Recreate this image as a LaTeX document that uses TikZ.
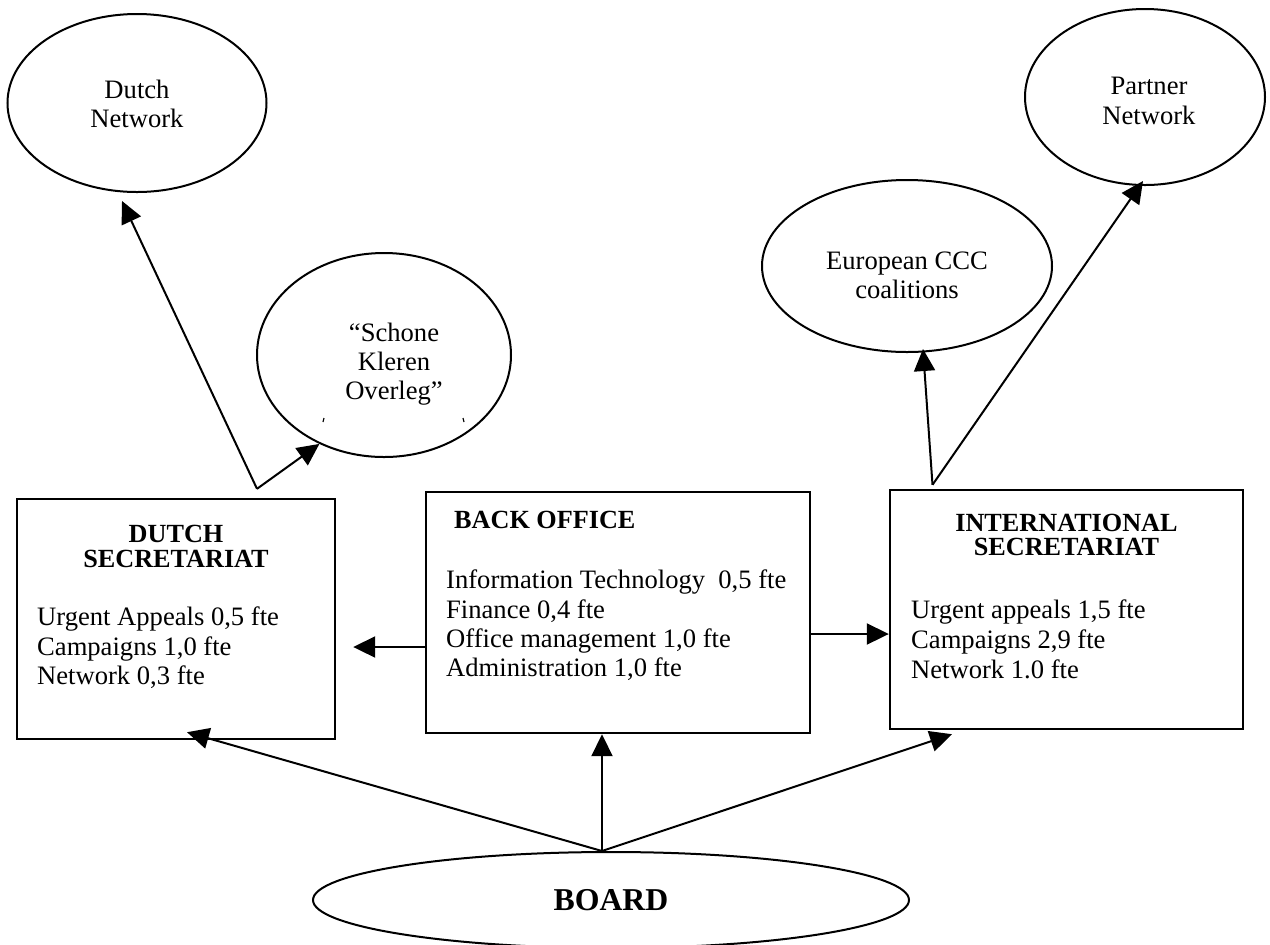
\documentclass[tikz,border=0pt]{standalone}
\usepackage{fontspec}
\setmainfont{Liberation Serif}
\usetikzlibrary{positioning,shapes.geometric,arrows.meta}

\begin{document}
\begin{tikzpicture}[x=0.5pt, y=-0.5pt,
				net/.style={ellipse, draw=black, line width=1pt, inner sep=0pt},
				nettext/.style={rectangle, inner sep=0pt, align=center, font=\fontsize{13.3}{14.6}\selectfont},
				unit/.style={rectangle, draw=black, line width=1.2pt, inner sep=0pt},
				unittitle/.style={rectangle, inner sep=0pt, align=center, font=\fontsize{13.1}{12.4}\selectfont\bfseries},
				staff/.style={rectangle, inner sep=0pt, align=left, font=\fontsize{13.3}{14.6}\selectfont}
			]
			\useasboundingbox (0,0) rectangle (1270,944);
			\node[net, minimum width=129.5pt, minimum height=89pt] (dutchnet) at (137,103) {};
			\node[net, minimum width=127pt, minimum height=102pt] (schone) at (384,355) {};
			\node[net, minimum width=120pt, minimum height=88pt] (partnernet) at (1145,97) {};
			\node[net, minimum width=145pt, minimum height=86pt] (eurocoal) at (907,266) {};
			\node[net, minimum width=298pt, minimum height=48pt] (board) at (611,900) {};
			\node[nettext] (dutchnettext) at ([yshift=-0.5pt]dutchnet.center) {Dutch\\Network};
			\node[nettext] (schonetext) at ([xshift=5pt,yshift=-4.5pt]schone.center) {“Schone\\Kleren\\Overleg”};
			\node[nettext] (partnertext) at ([xshift=2pt,yshift=-2pt]partnernet.center) {Partner\\Network};
			\node[nettext] (eurotext) at ([yshift=-4.5pt]eurocoal.center) {European CCC\\coalitions};
			\node[nettext, font=\fontsize{15.9}{17}\selectfont\bfseries] (boardtext) at (board.center) {BOARD};
			\node[unit, minimum width=159pt, minimum height=120pt] (dutchsec) at (176,619) {};
			\node[unit, minimum width=192pt, minimum height=120.5pt] (backoffice) at (618,612.5) {};
			\node[unit, minimum width=176.5pt, minimum height=119.5pt] (intsec) at (1066.5,609.5) {};
			\node[unittitle] (dutchtitle) [below=13.5pt of dutchsec.north] {DUTCH\\SECRETARIAT};
			\node[staff] (dutchstaff) [below right=54.5pt and 10.5pt of dutchsec.north west] {Urgent Appeals 0,5 fte\\Campaigns 1,0 fte\\Network 0,3 fte};
			\node[unittitle] (backtitle) [below right=9.75pt and 14.5pt of backoffice.north west] {BACK OFFICE};
			\node[staff] (backstaff) [below right=39.5pt and 10.5pt of backoffice.north west] {Information Technology\ \ 0,5 fte\\Finance 0,4 fte\\Office management 1,0 fte\\Administration 1,0 fte};
			\node[unittitle] (inttitle) [below=12.25pt of intsec.north] {INTERNATIONAL\\SECRETARIAT};
			\node[staff, font=\fontsize{13.3}{15}\selectfont] (intstaff) [below right=55.5pt and 11pt of intsec.north west] {Urgent appeals 1,5 fte\\Campaigns 2,9 fte\\Network 1.0 fte};
			\coordinate (dsjoin) at ([xshift=40.5pt,yshift=4.5pt]dutchsec.north);
			\coordinate (isjoin) at ([xshift=-67pt,yshift=2pt]intsec.north);
			\coordinate (boardtop) at ([xshift=-4.5pt]board.north);
			\draw[line width=0.6pt] ([xshift=-30pt,yshift=-31.5pt]schone.center) -- ++(-1,4);
			\draw[line width=0.6pt] ([xshift=39.5pt,yshift=-31.5pt]schone.center) -- ++(1,4);
			\begin{scope}[line width=1pt, -{Triangle[length=11pt, width=10.5pt]}]
			\draw (dsjoin) -- ([xshift=-7.5pt,yshift=-4pt]dutchnet.south);
			\draw (dsjoin) -- (schone.234);
			\draw (isjoin) -- ([xshift=8pt,yshift=2pt]eurocoal.south);
			\draw (isjoin) -- ([xshift=-1pt,yshift=2.5pt]partnernet.south);
			\draw ([yshift=-17.25pt]backoffice.west) -- ([xshift=8.5pt,yshift=-14pt]dutchsec.east);
			\draw ([yshift=-10.75pt]backoffice.east) -- ([yshift=-12.25pt]intsec.west);
			\draw (boardtop) -- ([xshift=5.5pt,yshift=4pt]dutchsec.south);
			\draw (boardtop) -- ([xshift=-8pt]backoffice.south);
			\draw (boardtop) -- ([xshift=-57.25pt,yshift=-2pt]intsec.south);
			\end{scope}
\end{tikzpicture}
\end{document}
